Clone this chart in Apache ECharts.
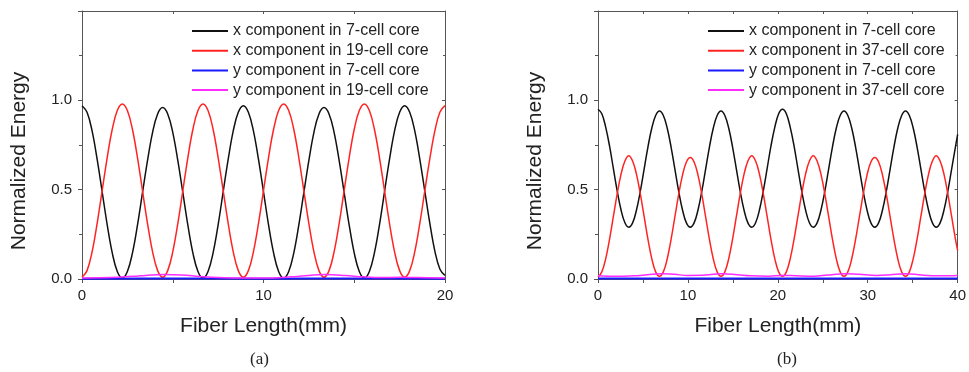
<!DOCTYPE html>
<html><head><meta charset="utf-8">
<script src="https://cdn.jsdelivr.net/npm/echarts@6/dist/echarts.min.js"></script>
<style>html,body{margin:0;padding:0;background:#fff}#c{width:969px;height:372px}</style>
</head><body><div id="c"></div>
<script>
// ---------- Panel (a) data ----------
const namesA = ['x component in 7-cell core','x component in 19-cell core','y component in 7-cell core','y component in 19-cell core'];
const xA = [0,0.278,0.556,0.833,1.111,1.389,1.667,1.944,2.222,2.5,2.778,3.056,3.333,3.611,3.889,4.167,4.444,4.722,5,5.278,5.556,5.833,6.111,6.389,6.667,6.944,7.222,7.5,7.778,8.056,8.333,8.611,8.889,9.167,9.444,9.722,10,10.278,10.556,10.833,11.111,11.389,11.667,11.944,12.222,12.5,12.778,13.056,13.333,13.611,13.889,14.167,14.444,14.722,15,15.278,15.556,15.833,16.111,16.389,16.667,16.944,17.222,17.5,17.778,18.056,18.333,18.611,18.889,19.167,19.444,19.722,20];
const xComp7A = [
  0.97,0.933,0.829,0.671,0.488,0.303,0.146,0.042,0.005,
  0.042,0.145,0.301,0.483,0.664,0.821,0.924,0.96,
  0.924,0.821,0.664,0.483,0.301,0.145,0.042,0.005,
  0.042,0.146,0.303,0.488,0.671,0.829,0.933,0.97,
  0.933,0.829,0.671,0.488,0.303,0.146,0.042,0.005,
  0.042,0.145,0.301,0.483,0.664,0.821,0.924,0.96,
  0.924,0.821,0.664,0.483,0.301,0.145,0.042,0.005,
  0.042,0.146,0.303,0.488,0.671,0.829,0.933,0.97,
  0.933,0.829,0.671,0.49,0.31,0.155,0.055,0.02];
const xComp19A = [
  0.01,0.047,0.152,0.31,0.495,0.68,0.838,0.943,0.98,
  0.943,0.838,0.68,0.495,0.31,0.152,0.047,0.01,
  0.047,0.152,0.31,0.495,0.68,0.838,0.943,0.98,
  0.943,0.838,0.68,0.495,0.31,0.152,0.047,0.01,
  0.047,0.152,0.31,0.495,0.68,0.838,0.943,0.98,
  0.943,0.838,0.68,0.495,0.31,0.152,0.047,0.01,
  0.047,0.152,0.31,0.495,0.68,0.838,0.943,0.98,
  0.943,0.838,0.68,0.495,0.31,0.152,0.047,0.01,
  0.047,0.152,0.31,0.495,0.675,0.83,0.935,0.97];
const xBlueA = [0,5,10,15,20];
const yComp7A = [0.002,0.003,0.002,0.003,0.002];
const xMagA = [0,1,2,3,3.5,4.5,5.5,6.5,7.5,9,10.5,11.5,12.5,13.4,14.5,15.5,16.5,17.5,18.5,20];
const yComp19A = [0.006,0.007,0.01,0.016,0.02,0.025,0.022,0.014,0.008,0.005,0.006,0.012,0.02,0.025,0.02,0.012,0.008,0.01,0.008,0.006];
const xLabelsA = [0,10,20];

// ---------- Panel (b) data ----------
const namesB = ['x component in 7-cell core','x component in 37-cell core','y component in 7-cell core','y component in 37-cell core'];
const xB = [0,0.4275,0.855,1.2825,1.71,2.1375,2.565,2.9925,3.42,3.8475,4.275,4.7025,5.13,5.5575,5.985,6.4125,6.84,7.2675,7.695,8.1225,8.55,8.9775,9.405,9.8325,10.26,10.6875,11.115,11.5425,11.97,12.3975,12.825,13.2525,13.68,14.1075,14.535,14.9625,15.39,15.8175,16.245,16.6725,17.1,17.5275,17.955,18.3825,18.81,19.2375,19.665,20.0925,20.52,20.9475,21.375,21.8025,22.23,22.6575,23.085,23.5125,23.94,24.3675,24.795,25.2225,25.65,26.0775,26.505,26.9325,27.36,27.7875,28.215,28.6425,29.07,29.4975,29.925,30.3525,30.78,31.2075,31.635,32.0625,32.49,32.9175,33.345,33.7725,34.2,34.6275,35.055,35.4825,35.91,36.3375,36.765,37.1925,37.62,38.0475,38.475,38.9025,39.33,39.7575,40];
const xComp7B = [
  0.95,0.925,0.85,0.745,0.618,0.492,0.386,0.315,0.29,
  0.314,0.385,0.49,0.615,0.74,0.845,0.915,0.94,
  0.915,0.845,0.74,0.615,0.49,0.385,0.314,0.29,
  0.314,0.385,0.49,0.615,0.74,0.845,0.915,0.94,
  0.915,0.845,0.74,0.615,0.49,0.385,0.314,0.29,
  0.315,0.386,0.492,0.618,0.745,0.85,0.925,0.95,
  0.925,0.85,0.745,0.618,0.492,0.386,0.315,0.29,
  0.314,0.385,0.49,0.615,0.74,0.845,0.915,0.94,
  0.915,0.845,0.74,0.615,0.49,0.385,0.314,0.29,
  0.314,0.385,0.49,0.615,0.74,0.845,0.915,0.94,
  0.915,0.845,0.74,0.615,0.49,0.385,0.314,0.29,
  0.314,0.385,0.49,0.615,0.74,0.81];
const xComp37B = [
  0.01,0.04,0.113,0.222,0.35,0.478,0.587,0.66,0.69,
  0.66,0.587,0.478,0.35,0.222,0.113,0.04,0.015,
  0.04,0.112,0.22,0.348,0.475,0.583,0.655,0.68,
  0.655,0.583,0.475,0.348,0.22,0.112,0.04,0.015,
  0.04,0.113,0.222,0.35,0.478,0.587,0.66,0.69,
  0.66,0.587,0.478,0.35,0.222,0.113,0.04,0.015,
  0.04,0.113,0.222,0.35,0.478,0.587,0.66,0.69,
  0.66,0.587,0.478,0.35,0.222,0.113,0.04,0.015,
  0.04,0.112,0.22,0.348,0.475,0.583,0.655,0.68,
  0.655,0.583,0.475,0.348,0.22,0.112,0.04,0.015,
  0.04,0.113,0.222,0.35,0.478,0.587,0.66,0.69,
  0.66,0.587,0.478,0.35,0.222,0.16];
const xBlueB = [0,10,20,30,40];
const yComp7B = [0.003,0.003,0.003,0.003,0.003];
const xMagB = [0,2,4,5.5,7,8.5,10,12,13.8,15.5,17,19,20.5,22,24,25.5,27.4,29,31,32.5,34.2,36,38,40];
const yComp37B = [0.018,0.015,0.018,0.024,0.03,0.026,0.02,0.022,0.03,0.024,0.018,0.016,0.02,0.018,0.016,0.022,0.03,0.026,0.02,0.024,0.03,0.022,0.018,0.02];
const xLabelsB = [0,10,20,30,40];

const yLabels = [0,0.5,1.0];

const FONT = '"Liberation Sans", Arial, sans-serif';
const colors = ['#111111','#ff2424','#1a1aff','#ff2cff'];
const AX = '#555';

function pairs(xs, ys){ return xs.map((x,i)=>[x, ys[i]]); }

function xBottom(g, max, labels){
  return {type:'value', gridIndex:g, min:0, max:max, interval:5, position:'bottom',
    axisLine:{onZero:false, lineStyle:{color:AX, width:1}},
    axisTick:{inside:false, length:4, lineStyle:{color:AX}},
    axisLabel:{fontFamily:FONT, fontSize:15, color:'#222', margin:9,
      formatter:(v)=> labels.includes(v) ? String(v) : ''},
    splitLine:{show:false},
    name:'Fiber Length(mm)', nameLocation:'middle', nameGap:37,
    nameTextStyle:{fontFamily:FONT, fontSize:21, color:'#222'}};
}
function xTop(g, max){
  return {type:'value', gridIndex:g, min:0, max:max, interval:5, position:'top',
    axisLine:{onZero:false, lineStyle:{color:AX, width:1}},
    axisTick:{inside:true, length:3, lineStyle:{color:AX}},
    axisLabel:{show:false}, splitLine:{show:false}};
}
function yLeft(g){
  return {type:'value', gridIndex:g, min:0, max:1.5, interval:0.5, position:'left',
    axisLine:{show:true, onZero:false, lineStyle:{color:AX, width:1}},
    axisTick:{show:true, inside:false, length:4, lineStyle:{color:AX}},
    minorTick:{show:true, splitNumber:2, length:3, lineStyle:{color:AX}},
    axisLabel:{fontFamily:FONT, fontSize:15, color:'#222', margin:10,
      formatter:(v)=> yLabels.includes(v) ? v.toFixed(1) : ''},
    splitLine:{show:false},
    name:'Normalized Energy', nameLocation:'middle', nameGap:52, nameRotate:90,
    nameTextStyle:{fontFamily:FONT, fontSize:21, color:'#222', padding:[0,32,0,0]}};
}
function yRight(g){
  return {type:'value', gridIndex:g, min:0, max:1.5, interval:0.5, position:'right',
    axisLine:{show:true, onZero:false, lineStyle:{color:AX, width:1}},
    axisTick:{show:true, inside:true, length:3, lineStyle:{color:AX}},
    minorTick:{show:true, splitNumber:2, length:2, lineStyle:{color:AX}},
    axisLabel:{show:false}, splitLine:{show:false}};
}
function line(name, data, xi, yi, color, w){
  return {type:'line', name:name, data:data, xAxisIndex:xi, yAxisIndex:yi,
    symbol:'none', showSymbol:false, smooth:0.4, clip:true,
    lineStyle:{color:color, width:w || 1.5}, itemStyle:{color:color}};
}
function legend(left, names){
  return {data:names, left:left, top:23, padding:0, orient:'vertical', icon:'rect',
    itemWidth:36, itemHeight:2, itemGap:3.7, selectedMode:false,
    textStyle:{fontFamily:FONT, fontSize:16, color:'#222', lineHeight:16}};
}

const chart = echarts.init(document.getElementById('c'), null, {renderer:'canvas'});
chart.setOption({
  animation:false,
  backgroundColor:'#fff',
  grid:[
    {left:82, top:11, width:363, height:268},
    {left:598, top:11, width:363, height:268}
  ],
  xAxis:[xBottom(0,20,xLabelsA), xTop(0,20), xBottom(1,40,xLabelsB), xTop(1,40)],
  yAxis:[yLeft(0), yRight(0), yLeft(1), yRight(1)],
  legend:[legend(192, namesA), legend(708, namesB)],
  series:[
    line(namesA[0], pairs(xA, xComp7A), 0, 0, colors[0]),
    line(namesA[1], pairs(xA, xComp19A), 0, 0, colors[1]),
    line(namesA[2], pairs(xBlueA, yComp7A), 0, 0, colors[2], 2),
    line(namesA[3], pairs(xMagA, yComp19A), 0, 0, colors[3]),
    line(namesB[0], pairs(xB, xComp7B), 2, 2, colors[0]),
    line(namesB[1], pairs(xB, xComp37B), 2, 2, colors[1]),
    line(namesB[2], pairs(xBlueB, yComp7B), 2, 2, colors[2], 2),
    line(namesB[3], pairs(xMagB, yComp37B), 2, 2, colors[3])
  ],
  graphic:[
    {type:'text', left:250, top:351, style:{text:'(a)', font:'17px "Liberation Serif", "Times New Roman", serif', fill:'#222'}},
    {type:'text', left:777, top:351, style:{text:'(b)', font:'17px "Liberation Serif", "Times New Roman", serif', fill:'#222'}}
  ]
});
</script></body></html>
